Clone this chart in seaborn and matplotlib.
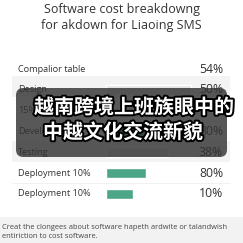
import matplotlib
matplotlib.use('Agg')
import matplotlib.pyplot as plt
import matplotlib.patheffects as pe
from matplotlib.patches import FancyBboxPatch, Rectangle
import pandas as pd
import seaborn as sns

# data
labels = ['Compalior table', 'Design', '15%', 'Development', 'Testing',
          'Deployment 10%', 'Deployment 10%']
pct_text = ['54%', '50%', '', '80%', '38%', '80%', '10%']
bar_len = [0, 85, 0, 67, 62, 40, 27]
bar_col = ['#e4e4e4', '#e4e4e4', '#e4e4e4', '#3db48c', '#e4e4e4', '#3db48c', '#3db48c']
title = 'Software cost breakdowng\nfor akdown for Liaoing SMS'
footer = 'Creat the clongees about software hapeth ardwite or talandwish\nentiriction to cost software.'
overlay = ['越南跨境上班族眼中的', '中越文化交流新貌']

sns.set_theme(style='white')
plt.rcParams['font.family'] = ['Open Sans', 'DejaVu Sans']

W = 243
fig = plt.figure(figsize=(2.43, 2.43), dpi=100)
fig.patch.set_facecolor('white')

# background decorations in pixel coords
bg = fig.add_axes([0, 0, 1, 1])
bg.set_xlim(0, W)
bg.set_ylim(W, 0)
bg.axis('off')
bg.add_patch(Rectangle((12, 76), 218, 21, color='#f3f3f3', lw=0))
bg.add_patch(Rectangle((12, 141), 218, 21, color='#f3f3f3', lw=0))
bg.add_patch(Rectangle((0, 217), W, 26, color='#f2f2f2', lw=0))
bg.plot([12, 230], [183, 183], color='#efefef', lw=0.6)
bg.text(W / 2, 18, title, ha='center', va='center', fontsize=9.0,
        color='#333333', linespacing=1.3)
bg.text(2, 232, footer, ha='left', va='center', fontsize=5.45,
        color='#444444', linespacing=1.5)

# bar table
top, bottom = 58.6, 204.4
ax = fig.add_axes([0, 1 - bottom / W, 1, (bottom - top) / W])
ax.patch.set_alpha(0)
df = pd.DataFrame({'row': [str(i) for i in range(len(labels))], 'len': bar_len})
sns.barplot(data=df, x='len', y='row', hue='row', palette=bar_col,
            legend=False, width=0.48, ax=ax, orient='h')
ax.set_xlim(-106, W - 106)
ax.set_ylim(len(labels) - 0.5, -0.5)
ax.axis('off')
for i, (lab, p) in enumerate(zip(labels, pct_text)):
    ax.text(-106 + 18, i, lab, ha='left', va='center', fontsize=6.6, color='#333333')
    ax.text(W - 106 - 20, i, p, ha='right', va='center', fontsize=8.8, color='#333333')

# subtitle overlay
ov = FancyBboxPatch((16 / W, 1 - 157 / W), 211 / W, 69 / W,
                    boxstyle='round,pad=0,rounding_size=0.03',
                    transform=fig.transFigure, facecolor='#333333',
                    alpha=0.82, edgecolor='none')
fig.patches.append(ov)
for txt, x, y in zip(overlay, [134, 123], [107, 132]):
    fig.text(x / W, 1 - y / W, txt, ha='center', va='center', fontsize=14.4,
             color='white', fontweight='black', family=['Noto Sans CJK SC'],
             path_effects=[pe.withStroke(linewidth=2.8, foreground='black')])

fig.savefig('out.png', dpi=100)
